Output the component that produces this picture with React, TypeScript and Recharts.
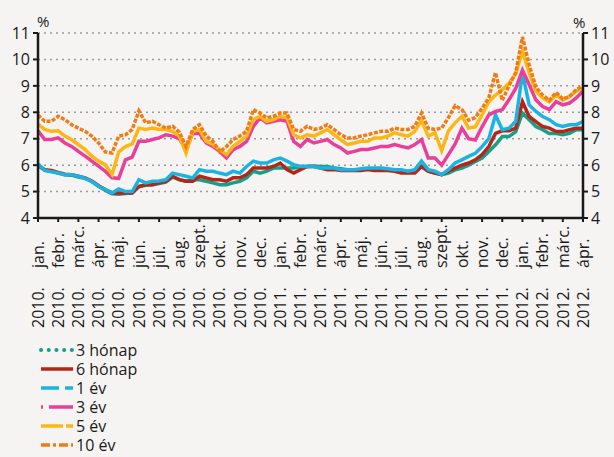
import React from 'react';
import { LineChart, Line, XAxis, YAxis, CartesianGrid } from 'recharts';

const monthLabels = [
  '2010. jan.', '2010. febr.', '2010. márc.', '2010. ápr.', '2010. máj.', '2010. jún.',
  '2010. júl.', '2010. aug.', '2010. szept.', '2010. okt.', '2010. nov.', '2010. dec.',
  '2011. jan.', '2011. febr.', '2011. márc.', '2011. ápr.', '2011. máj.', '2011. jún.',
  '2011. júl.', '2011. aug.', '2011. szept.', '2011. okt.', '2011. nov.', '2011. dec.',
  '2012. jan.', '2012. febr.', '2012. márc.', '2012. ápr.',
];

const yTicks = [4, 5, 6, 7, 8, 9, 10, 11];

// one value every third of a month, Jan 2010 -> Apr 2012
const s3m = [
  5.98, 5.8, 5.77, 5.7, 5.64, 5.62, 5.55, 5.5, 5.38, 5.2, 5.05, 4.92, 4.9, 4.93, 4.95, 5.18, 5.24, 5.26, 5.3, 5.36, 5.55,
  5.45, 5.39, 5.45, 5.45, 5.39, 5.33, 5.26, 5.26, 5.33, 5.39, 5.52, 5.77, 5.7, 5.77, 5.89, 5.89, 5.89, 5.89, 5.95, 5.95, 5.97,
  5.95, 5.95, 5.89, 5.86, 5.83, 5.83, 5.83, 5.86, 5.83, 5.83, 5.83, 5.8, 5.77, 5.77, 5.77, 5.95, 5.77, 5.7, 5.64, 5.7,
  5.82, 5.89, 6.0, 6.14, 6.27, 6.52, 6.77, 7.08, 7.08, 7.27, 7.97, 7.72, 7.46, 7.34, 7.2, 7.2, 7.15, 7.2, 7.34, 7.34,
];
const s6m = [
  6.0, 5.83, 5.8, 5.72, 5.66, 5.64, 5.58, 5.52, 5.4, 5.22, 5.08, 4.95, 4.95, 4.95, 4.95, 5.2, 5.26, 5.26, 5.33, 5.39, 5.58,
  5.45, 5.39, 5.39, 5.58, 5.52, 5.45, 5.45, 5.39, 5.52, 5.52, 5.64, 5.89, 5.89, 5.89, 5.95, 6.08, 5.83, 5.7, 5.83, 5.95, 5.95,
  5.89, 5.83, 5.83, 5.8, 5.8, 5.8, 5.8, 5.83, 5.8, 5.8, 5.8, 5.77, 5.7, 5.7, 5.7, 5.95, 5.77, 5.7, 5.64, 5.77,
  5.89, 6.0, 6.08, 6.2, 6.4, 6.7, 7.2, 7.3, 7.3, 7.4, 8.4, 7.84, 7.65, 7.46, 7.4, 7.27, 7.27, 7.34, 7.4, 7.4,
];
const s1y = [
  6.05, 5.8, 5.75, 5.7, 5.64, 5.64, 5.58, 5.5, 5.38, 5.2, 5.08, 4.95, 5.1, 5.0, 5.0, 5.45, 5.33, 5.39, 5.4, 5.45, 5.7,
  5.64, 5.58, 5.52, 5.83, 5.77, 5.77, 5.7, 5.64, 5.77, 5.7, 5.95, 6.15, 6.08, 6.08, 6.2, 6.27, 6.15, 6.02, 5.95, 5.95, 5.95,
  5.89, 5.89, 5.89, 5.83, 5.83, 5.83, 5.86, 5.89, 5.89, 5.89, 5.86, 5.83, 5.83, 5.77, 5.83, 6.15, 5.83, 5.77, 5.64, 5.83,
  6.08, 6.2, 6.33, 6.45, 6.7, 7.0, 7.9, 7.34, 7.4, 7.65, 9.48, 8.28, 8.03, 7.84, 7.72, 7.53, 7.46, 7.53, 7.53, 7.65,
];
const s3y = [
  7.3, 6.97, 6.97, 7.03, 6.84, 6.71, 6.52, 6.34, 6.15, 5.96, 5.77, 5.52, 5.5, 6.2, 6.3, 6.9, 6.9, 6.97, 7.03, 7.15, 7.1,
  7.0, 6.6, 7.2, 7.2, 6.84, 6.71, 6.52, 6.27, 6.59, 6.71, 6.9, 7.47, 7.79, 7.6, 7.66, 7.72, 7.66, 6.9, 6.71, 6.97, 6.84,
  6.9, 6.97, 6.78, 6.65, 6.46, 6.52, 6.59, 6.59, 6.65, 6.71, 6.71, 6.78, 6.71, 6.65, 6.78, 6.97, 6.27, 6.27, 6.0, 6.4,
  6.8, 7.4, 7.0, 6.95, 7.45, 7.9, 8.03, 8.1, 8.47, 8.9, 9.6, 9.04, 8.47, 8.22, 8.1, 8.4, 8.28, 8.35, 8.54, 8.8,
];
const s5y = [
  7.55, 7.35, 7.28, 7.3, 7.1, 6.96, 6.78, 6.59, 6.34, 6.15, 6.02, 5.65, 6.5, 6.7, 6.8, 7.4, 7.35, 7.4, 7.35, 7.35, 7.28,
  7.1, 6.45, 7.28, 7.35, 6.9, 6.78, 6.59, 6.4, 6.71, 6.9, 7.1, 7.72, 7.85, 7.66, 7.72, 7.85, 7.79, 7.15, 7.03, 7.15, 7.1,
  7.22, 7.35, 7.15, 6.96, 6.78, 6.84, 6.9, 6.9, 7.03, 7.03, 7.1, 7.22, 7.15, 7.1, 7.28, 7.7, 7.1, 7.22, 6.55, 7.3,
  7.6, 7.85, 7.4, 7.45, 7.9, 8.4, 8.65, 8.85, 9.1, 9.45, 10.3, 9.5, 8.8, 8.54, 8.4, 8.66, 8.47, 8.6, 8.8, 8.92,
];
const s10y = [
  7.9, 7.66, 7.66, 7.85, 7.72, 7.53, 7.4, 7.28, 7.1, 6.84, 6.5, 6.46, 7.1, 7.15, 7.35, 8.05, 7.6, 7.66, 7.53, 7.4, 7.47,
  7.25, 6.7, 7.35, 7.53, 7.1, 6.9, 6.5, 6.7, 6.97, 7.1, 7.28, 8.1, 7.97, 7.79, 7.85, 7.97, 7.97, 7.35, 7.28, 7.47, 7.35,
  7.4, 7.53, 7.35, 7.15, 7.03, 7.03, 7.1, 7.15, 7.22, 7.28, 7.28, 7.4, 7.35, 7.35, 7.47, 7.97, 7.4, 7.35, 7.4, 7.8,
  8.25, 8.1, 7.7, 7.8, 8.15, 8.55, 9.5, 8.45, 9.0, 9.5, 10.85, 9.8, 8.95, 8.65, 8.45, 8.75, 8.5, 8.6, 8.85, 9.0,
];

const seriesNames = ['3 hónap', '6 hónap', '1 év', '3 év', '5 év', '10 év'];
const seriesKeys = ['m3', 'm6', 'y1', 'y3', 'y5', 'y10'];
const seriesColors = ['#16a08a', '#b3261a', '#1bb4e2', '#e8409a', '#fdb714', '#f07c17'];
const legendDash = ['0.1 7.6', undefined, '18 6', '2 6 24 6', '22 3', '9 3 3 3'];
const legendCap: ('round' | 'butt')[] = ['round', 'butt', 'butt', 'butt', 'butt', 'butt'];

const data = s3m.map((_, i) => ({
  x: i / 3,
  m3: s3m[i],
  m6: s6m[i],
  y1: s1y[i],
  y3: s3y[i],
  y5: s5y[i],
  y10: s10y[i],
}));

const xTicks = monthLabels.map((_, i) => i);

const FONT = '"Open Sans", "DejaVu Sans", sans-serif';
const TEXT = '#1a1a1a';

const MonthTick = (props: any) => {
  const { x, payload } = props;
  const label: string = monthLabels[Math.round(payload.value)] ?? '';
  const sp = label.indexOf(' ');
  const year = label.slice(0, sp);
  const month = label.slice(sp + 1);
  const bx = x + 5.7;
  return (
    <g>
      <text transform={`rotate(-90 ${bx} 328)`} x={bx} y={328} textAnchor="start" fontSize={16} fill={TEXT} fontFamily={FONT}>
        {year}
      </text>
      <text transform={`rotate(-90 ${bx} 268)`} x={bx} y={268} textAnchor="start" fontSize={16} fill={TEXT} fontFamily={FONT}>
        {month}
      </text>
    </g>
  );
};

const ValueTick = (props: any) => {
  const { x, y, payload, side } = props;
  return (
    <text
      x={x}
      y={y}
      dy="0.355em"
      textAnchor={side === 'right' ? 'start' : 'end'}
      fontSize={16}
      fill={TEXT}
      fontFamily={FONT}
    >
      {payload.value}
    </text>
  );
};

export default function App() {
  return (
    <div style={{ position: 'absolute', left: 0, top: 0, width: 614, height: 457, background: '#f5f4f2', fontFamily: FONT, overflow: 'hidden' }}>
      <LineChart width={614} height={457} data={data} margin={{ top: 33, right: 0, bottom: 0, left: 0 }} style={{ overflow: 'visible' }}>
        <CartesianGrid yAxisId="left" vertical={false} stroke="#9b9b9b" strokeWidth={1.5} strokeDasharray="2 4" />
        <XAxis
          dataKey="x"
          type="number"
          domain={[0, 27]}
          ticks={xTicks}
          interval={0}
          height={239}
          tick={<MonthTick />}
          tickSize={4}
          tickLine={{ stroke: TEXT, strokeWidth: 2 }}
          axisLine={{ stroke: TEXT, strokeWidth: 2.5 }}
        />
        <YAxis
          yAxisId="left"
          orientation="left"
          width={38}
          domain={[4, 11]}
          ticks={yTicks}
          interval={0}
          allowDataOverflow
          tickSize={5}
          tickMargin={3}
          tick={<ValueTick side="left" />}
          tickLine={{ stroke: TEXT, strokeWidth: 2 }}
          axisLine={{ stroke: TEXT, strokeWidth: 2.5 }}
        />
        <YAxis
          yAxisId="right"
          orientation="right"
          width={31}
          domain={[4, 11]}
          ticks={yTicks}
          interval={0}
          allowDataOverflow
          tickSize={5}
          tickMargin={3}
          tick={<ValueTick side="right" />}
          tickLine={{ stroke: TEXT, strokeWidth: 2 }}
          axisLine={{ stroke: TEXT, strokeWidth: 2.5 }}
        />
        {seriesKeys.map((k, i) => (
          <Line
            key={k}
            yAxisId={k === 'y10' ? 'right' : 'left'}
            type="linear"
            dataKey={k}
            name={seriesNames[i]}
            stroke={seriesColors[i]}
            strokeWidth={3.5}
            strokeDasharray={k === 'y10' ? '4 1.5' : undefined}
            dot={false}
            activeDot={false}
            isAnimationActive={false}
          />
        ))}
      </LineChart>
      <svg width={614} height={457} style={{ position: 'absolute', left: 0, top: 0, pointerEvents: 'none' }}>
        <text x={37} y={21} fontSize={15} fill={TEXT} fontFamily={FONT} dominantBaseline="central">%</text>
        <text x={573} y={22} fontSize={15} fill={TEXT} fontFamily={FONT} dominantBaseline="central">%</text>
        {seriesNames.map((n, i) => {
          const cy = 350 + i * 19;
          return (
            <g key={n}>
              <line
                x1={41}
                x2={73}
                y1={cy}
                y2={cy}
                stroke={seriesColors[i]}
                strokeWidth={i === 0 ? 4 : 3.5}
                strokeDasharray={legendDash[i]}
                strokeLinecap={legendCap[i]}
              />
              <text x={76} y={cy} fontSize={16} fill={TEXT} fontFamily={FONT} dominantBaseline="central">
                {n}
              </text>
            </g>
          );
        })}
      </svg>
    </div>
  );
}
